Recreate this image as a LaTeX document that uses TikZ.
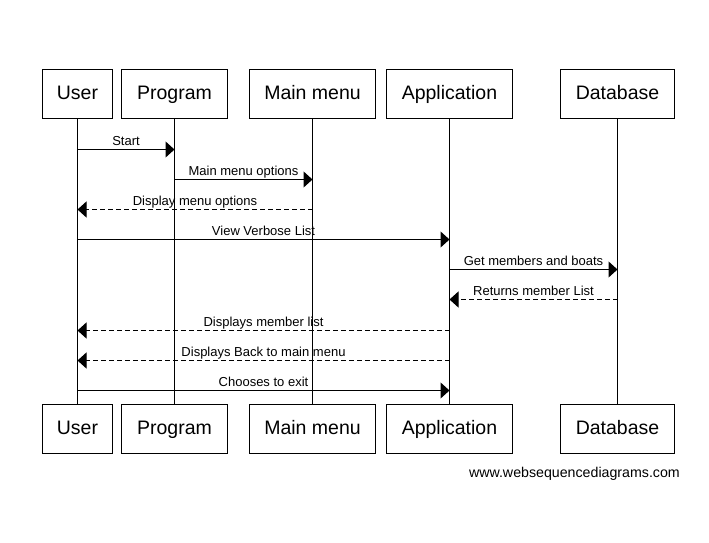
\documentclass[tikz,border=0pt]{standalone}
\usepackage{fontspec}
\setmainfont{Liberation Sans}
\usetikzlibrary{arrows.meta}
\tikzset{
  actor/.style={draw=black, line width=1pt, minimum height=49pt, inner sep=0pt, text height=14pt, text depth=4pt, font=\fontsize{19.5}{22}\selectfont},
  life/.style={line width=1pt},
  msg/.style={line width=1pt, -{Triangle[length=9pt,width=16pt]}},
  ret/.style={msg, dash pattern=on 5pt off 3pt},
  lbl/.style={font=\fontsize{13}{15}\selectfont, anchor=base, inner sep=0pt}
}
\begin{document}
\begin{tikzpicture}[x=1pt,y=-1pt]
\useasboundingbox (0,0) rectangle (709,543);
% top actors
\node[actor, minimum width=70pt]  (uT) at (77.5,94) {User};
\node[actor, minimum width=106pt] (pT) at (174.5,94) {Program};
\node[actor, minimum width=126pt] (mT) at (312.5,94) {Main menu};
\node[actor, minimum width=126pt] (aT) at (449.5,94) {Application};
\node[actor, minimum width=114pt] (dT) at (617.5,94) {Database};
% bottom actors
\node[actor, minimum width=70pt]  (uB) at (77.5,429) {User};
\node[actor, minimum width=106pt] (pB) at (174.5,429) {Program};
\node[actor, minimum width=126pt] (mB) at (312.5,429) {Main menu};
\node[actor, minimum width=126pt] (aB) at (449.5,429) {Application};
\node[actor, minimum width=114pt] (dB) at (617.5,429) {Database};
% lifelines
\draw[life] (uT.south) -- (uB.north);
\draw[life] (pT.south) -- (pB.north);
\draw[life] (mT.south) -- (mB.north);
\draw[life] (aT.south) -- (aB.north);
\draw[life] (dT.south) -- (dB.north);
% message anchor coordinates
\foreach \n/\yy in {1/149.5,2/179.5,3/209.5,4/239.5,5/269.5,6/299.5,7/330.5,8/360.5,9/390.5}{
  \coordinate (u\n) at (uT.south |- 0,\yy);
  \coordinate (p\n) at (pT.south |- 0,\yy);
  \coordinate (m\n) at (mT.south |- 0,\yy);
  \coordinate (a\n) at (aT.south |- 0,\yy);
  \coordinate (d\n) at (dT.south |- 0,\yy);
}
\draw[msg] (u1) -- (p1) node[lbl, midway, yshift=4pt] (l1) {Start};
\draw[msg] (p2) -- (m2) node[lbl, midway, yshift=4pt] (l2) {Main menu options};
\draw[ret] (m3) -- (u3) node[lbl, midway, yshift=4pt] (l3) {Display menu options};
\draw[msg] (u4) -- (a4) node[lbl, midway, yshift=4pt] (l4) {View Verbose List};
\draw[msg] (a5) -- (d5) node[lbl, midway, yshift=4pt] (l5) {Get members and boats};
\draw[ret] (d6) -- (a6) node[lbl, midway, yshift=4pt] (l6) {Returns member List};
\draw[ret] (a7) -- (u7) node[lbl, midway, yshift=4pt] (l7) {Displays member list};
\draw[ret] (a8) -- (u8) node[lbl, midway, yshift=4pt] (l8) {Displays Back to main menu};
\draw[msg] (u9) -- (a9) node[lbl, midway, yshift=4pt] (l9) {Chooses to exit};
% footer
\node[font=\fontsize{14.2}{16}\selectfont, anchor=base east, inner sep=0pt] (foot) at (680,477) {www.websequencediagrams.com};
\end{tikzpicture}
\end{document}
